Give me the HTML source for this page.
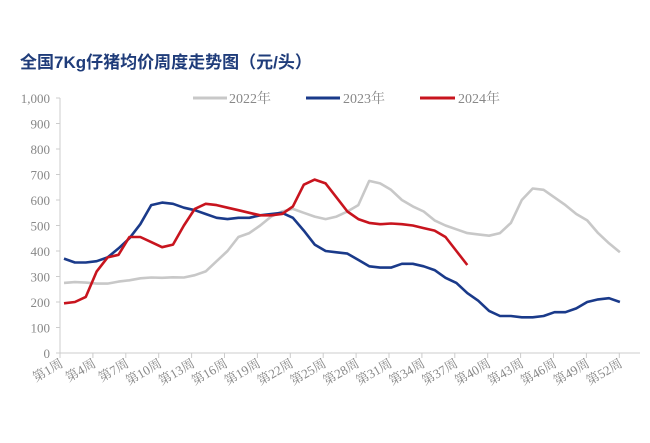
<!DOCTYPE html>
<html><head><meta charset="utf-8"><style>
body{margin:0;background:#fff;width:650px;height:438px;overflow:hidden}
svg text{font-family:"Liberation Serif","Noto Serif CJK SC",serif;fill:#888}
</style></head><body>
<svg id="s" width="650" height="438" xmlns="http://www.w3.org/2000/svg">
<text x="20" y="68" style="font-family:'Liberation Sans','Noto Sans CJK SC',sans-serif;font-weight:bold;font-size:17px;fill:#1f3c7a">全国7Kg仔猪均价周度走势图（元/头）</text>
<line x1="193" y1="98" x2="227" y2="98" stroke="#c8c8c8" stroke-width="3"/>
<text x="229" y="103" font-size="14">2022年</text>
<line x1="306" y1="98" x2="340" y2="98" stroke="#1a3a8a" stroke-width="3"/>
<text x="343" y="103" font-size="14">2023年</text>
<line x1="420" y1="98" x2="455" y2="98" stroke="#c8141e" stroke-width="3"/>
<text x="458" y="103" font-size="14">2024年</text>
<line x1="60" y1="98" x2="60" y2="353" stroke="#ccc"/>
<line x1="60" y1="353" x2="640" y2="353" stroke="#ccc"/>
<g id="g"></g>
</svg>
<script>
var g=document.getElementById('g'),h='';
for(var v=0;v<=1000;v+=100){var y=353-v*0.255;
h+='<text x="50" y="'+(y+5)+'" font-size="13" text-anchor="end">'+(v==1000?'1,000':v)+'</text>';
h+='<line x1="56" y1="'+y+'" x2="60" y2="'+y+'" stroke="#ccc"/>';}
for(var i=0;i<18;i++){var x=60+i*32.9;
h+='<line x1="'+x+'" y1="353" x2="'+x+'" y2="358" stroke="#ccc"/>';
h+='<text transform="translate('+(x+4)+',366) rotate(-30)" font-size="13" text-anchor="end">第'+(1+3*i)+'周</text>';}
function X(w){return 64+(w-1)*10.9}
function Y(v){return 353-v*0.255}
function line(d,c){var p='';for(var i=0;i<d.length;i++)p+=(i?'L':'M')+X(i+1).toFixed(1)+','+Y(d[i]).toFixed(1);
return '<path d="'+p+'" fill="none" stroke="'+c+'" stroke-width="2.6" stroke-linejoin="round"/>';}
var a=[275,278,276,272,272,280,285,293,296,295,297,296,305,320,360,400,455,470,500,535,555,565,550,535,525,535,555,580,675,665,640,600,575,555,520,500,485,470,465,460,470,510,600,645,640,610,580,545,520,470,430,395];
var b=[370,355,355,360,375,410,450,505,580,590,585,570,560,545,530,525,530,530,540,545,550,530,480,425,400,395,390,365,340,335,335,350,350,340,325,295,275,235,205,165,145,145,140,140,145,160,160,175,200,210,215,215,200];
b.splice(51,1);
var c=[195,200,220,320,375,385,455,455,435,415,425,500,565,585,580,570,560,550,540,540,545,575,660,680,665,610,555,525,510,505,508,505,500,490,480,455,400,345];
h+=line(a,'#c8c8c8')+line(b,'#1a3a8a')+line(c,'#c8141e');
g.innerHTML=h;
</script>
</body></html>
